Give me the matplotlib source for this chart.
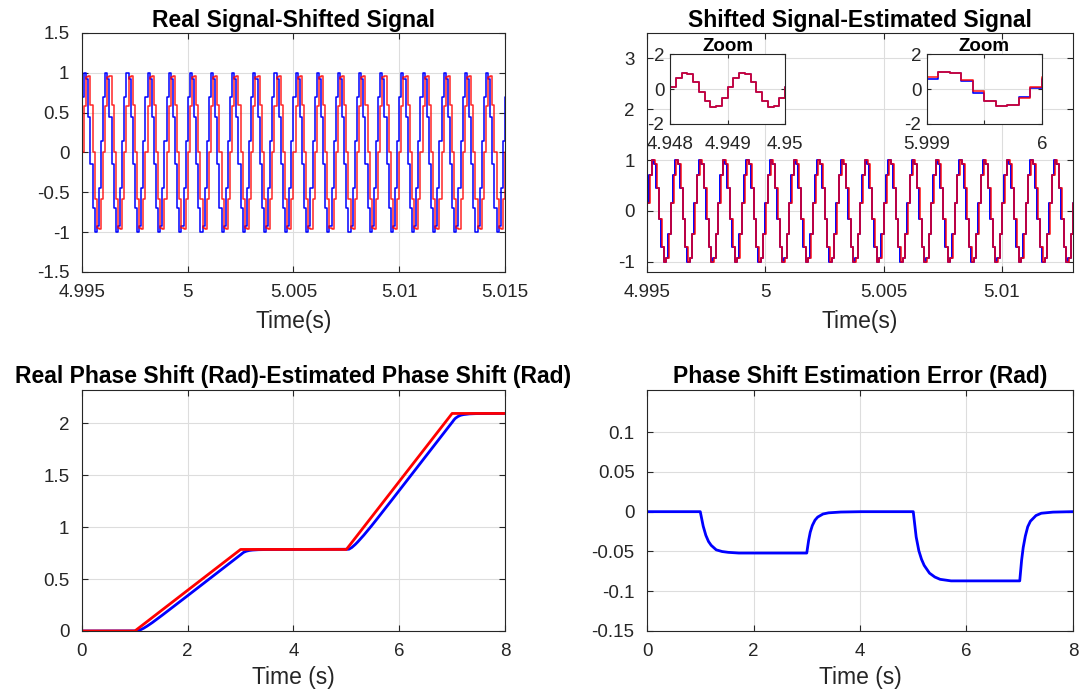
import numpy as np
import matplotlib
matplotlib.use('Agg')
import matplotlib.pyplot as plt

plt.rcParams['font.family'] = ['Liberation Sans', 'DejaVu Sans']
plt.rcParams['font.size'] = 13.5
plt.rcParams['axes.unicode_minus'] = False

# sample period of the stair signals (s)
ts = 1e-4

# one period (10 samples) of each stair signal
real_cycle = [0.15, 0.70, 1.00, 0.92, 0.45, -0.15, -0.70, -1.00, -0.92, -0.45]
shifted_cycle = [-0.59, 0.00, 0.58, 0.95, 0.96, 0.60, 0.00, -0.58, -0.95, -0.96]
tl_start = 4.9949
tl_cycles = 21

sig_cycle = [0.15, 0.70, 1.00, 0.92, 0.45, -0.15, -0.70, -1.00, -0.92, -0.45]
est_cycle = [0.15, 0.70, 1.00, 0.92, 0.45, -0.15, -0.70, -1.00, -0.92, -0.45]
tr_start = 4.995
est_start = 4.99502
tr_cycles = 19

zoom1_sig = [0.13, 0.65, 0.94, 0.88, 0.41, -0.16, -0.70, -1.00, -0.96, -0.49]
zoom1_est = [0.12, 0.64, 0.94, 0.88, 0.40, -0.17, -0.71, -1.00, -0.96, -0.50]
zoom1_start = 4.948

zoom2_sig = [0.66, 0.95, 0.89, 0.49, -0.14, -0.66, -0.99, -0.93, -0.49, 0.12]
zoom2_est = [0.60, 0.95, 0.89, 0.43, -0.20, -0.68, -0.99, -0.93, -0.45, 0.07]
zoom2_start = 5.999

# phase shift (rad)
phase_t = [0, 1, 3, 5, 7, 8]
phase_real = [0, 0, 0.785, 0.785, 2.094, 2.094]

err_t = [0, 1.0, 1.05, 1.1, 1.15, 1.2, 1.3, 1.4, 1.5, 1.7, 2.0, 3.0,
         3.03, 3.06, 3.1, 3.15, 3.2, 3.3, 3.4, 3.6, 3.8, 4.0, 5.0,
         5.05, 5.1, 5.15, 5.2, 5.3, 5.4, 5.5, 5.7, 6.0, 7.0,
         7.03, 7.06, 7.1, 7.15, 7.2, 7.3, 7.4, 7.6, 7.8, 8.0]
err_val = [0, 0, -0.017, -0.029, -0.037, -0.042, -0.048, -0.050, -0.051, -0.052, -0.052, -0.052,
           -0.038, -0.027, -0.018, -0.011, -0.007, -0.003, -0.0015, -0.0005, -0.0002, 0, 0,
           -0.030, -0.048, -0.059, -0.067, -0.077, -0.082, -0.085, -0.087, -0.087, -0.087,
           -0.064, -0.047, -0.032, -0.019, -0.012, -0.005, -0.002, -0.0006, -0.0002, 0]

tl_xticks = [4.995, 5, 5.005, 5.01, 5.015]
tl_xlabels = ['4.995', '5', '5.005', '5.01', '5.015']
tr_xticks = [4.995, 5, 5.005, 5.01]
tr_xlabels = ['4.995', '5', '5.005', '5.01']

DARK = '#262626'
TITLE_SIZE = 16.5
LABEL_SIZE = 16.5


def matlab_style(ax, pad=9):
    ax.grid(True, color='#dddddd', linewidth=0.8)
    ax.set_axisbelow(True)
    ax.tick_params(direction='in', top=True, right=True, length=4, width=0.8,
                   color=DARK, labelcolor=DARK, pad=pad)
    for s in ax.spines.values():
        s.set_color(DARK)
        s.set_linewidth(0.8)


def stairs(start, cycle, n):
    v = np.tile(cycle, n)
    t = start + ts * np.arange(len(v))
    return t, v


fig = plt.figure(figsize=(10.8, 6.97), dpi=100)

# top left
ax = fig.add_axes([0.0759, 0.6098, 0.3917, 0.3429])
t, v = stairs(tl_start, real_cycle, tl_cycles)
ax.step(t, v, where='post', color='blue', lw=1.1)
t, v = stairs(tl_start, shifted_cycle, tl_cycles)
ax.step(t, v, where='post', color='red', lw=1.1, alpha=0.85)
ax.set_xlim(4.995, 5.015)
ax.set_ylim(-1.5, 1.5)
ax.set_xticks(tl_xticks)
ax.set_xticklabels(tl_xlabels)
ax.set_yticks([-1.5, -1, -0.5, 0, 0.5, 1, 1.5])
ax.set_yticklabels(['-1.5', '-1', '-0.5', '0', '0.5', '1', '1.5'])
ax.set_xlabel('Time(s)', color=DARK, labelpad=6, fontsize=LABEL_SIZE)
ax.set_title('Real Signal-Shifted Signal', fontweight='bold', fontsize=TITLE_SIZE, pad=4)
matlab_style(ax)

# top right
ax = fig.add_axes([0.5991, 0.6098, 0.3944, 0.3429])
t, v = stairs(tr_start, sig_cycle, tr_cycles)
ax.step(t, v, where='post', color='blue', lw=1.4)
t, v = stairs(est_start, est_cycle, tr_cycles)
ax.step(t, v, where='post', color='red', lw=1.3, alpha=0.8)
ax.set_xlim(4.995, 5.013)
ax.set_ylim(-1.2, 3.5)
ax.set_xticks(tr_xticks)
ax.set_xticklabels(tr_xlabels)
ax.set_yticks([-1, 0, 1, 2, 3])
ax.set_yticklabels(['-1', '0', '1', '2', '3'])
ax.set_xlabel('Time(s)', color=DARK, labelpad=6, fontsize=LABEL_SIZE)
ax.set_title('Shifted Signal-Estimated Signal', fontweight='bold', fontsize=TITLE_SIZE, pad=4)
matlab_style(ax)

# zoom insets
zooms = [
    ([0.6204, 0.8221, 0.1065, 0.1004], zoom1_start, zoom1_sig, zoom1_est, 3,
     (4.948, 4.95), [4.948, 4.949, 4.95], ['4.948', '4.949', '4.95']),
    ([0.8583, 0.8221, 0.1065, 0.1004], zoom2_start, zoom2_sig, zoom2_est, 2,
     (5.999, 6.0), [5.999, 5.9995, 6.0], ['5.999', '', '6']),
]
for pos, start, sig, est, n, xl, xt, xtl in zooms:
    ax = fig.add_axes(pos)
    t, v = stairs(start, est, n)
    ax.step(t, v, where='post', color='blue', lw=1.2)
    t, v = stairs(start, sig, n)
    ax.step(t, v, where='post', color='red', lw=1.2, alpha=0.85)
    ax.set_xlim(*xl)
    ax.set_ylim(-2, 2)
    ax.set_xticks(xt)
    ax.set_xticklabels(xtl)
    ax.set_yticks([-2, 0, 2])
    ax.set_yticklabels(['-2', '0', '2'])
    ax.set_title('Zoom', fontweight='bold', fontsize=13.5, pad=2)
    matlab_style(ax, pad=4)
    ax.tick_params(length=3)
    ax.tick_params(axis='x', pad=9)

# bottom: phase shift
grid_t = np.linspace(0, 8, 1601)
real_phase = np.interp(grid_t, phase_t, phase_real)
err = np.interp(grid_t, err_t, err_val)
est_phase = real_phase + err

ax = fig.add_axes([0.0759, 0.0947, 0.3917, 0.3458])
ax.plot(grid_t, est_phase, color='blue', lw=2)
ax.plot(grid_t, real_phase, color='red', lw=2)
ax.set_xlim(0, 8)
ax.set_ylim(0, 2.32)
ax.set_xticks([0, 2, 4, 6, 8])
ax.set_yticks([0, 0.5, 1, 1.5, 2])
ax.set_yticklabels(['0', '0.5', '1', '1.5', '2'])
ax.set_xlabel('Time (s)', color=DARK, labelpad=4, fontsize=LABEL_SIZE)
ax.set_title('Real Phase Shift (Rad)-Estimated Phase Shift (Rad)', fontweight='bold',
             fontsize=TITLE_SIZE, pad=5)
matlab_style(ax)

ax = fig.add_axes([0.5991, 0.0947, 0.3944, 0.3458])
ax.plot(grid_t, err, color='blue', lw=2)
ax.set_xlim(0, 8)
ax.set_ylim(-0.15, 0.153)
ax.set_xticks([0, 2, 4, 6, 8])
ax.set_yticks([-0.15, -0.1, -0.05, 0, 0.05, 0.1])
ax.set_yticklabels(['-0.15', '-0.1', '-0.05', '0', '0.05', '0.1'])
ax.set_xlabel('Time (s)', color=DARK, labelpad=4, fontsize=LABEL_SIZE)
ax.set_title('Phase Shift Estimation Error (Rad)', fontweight='bold', fontsize=TITLE_SIZE, pad=5)
matlab_style(ax)

fig.savefig('out.png', dpi=100)
